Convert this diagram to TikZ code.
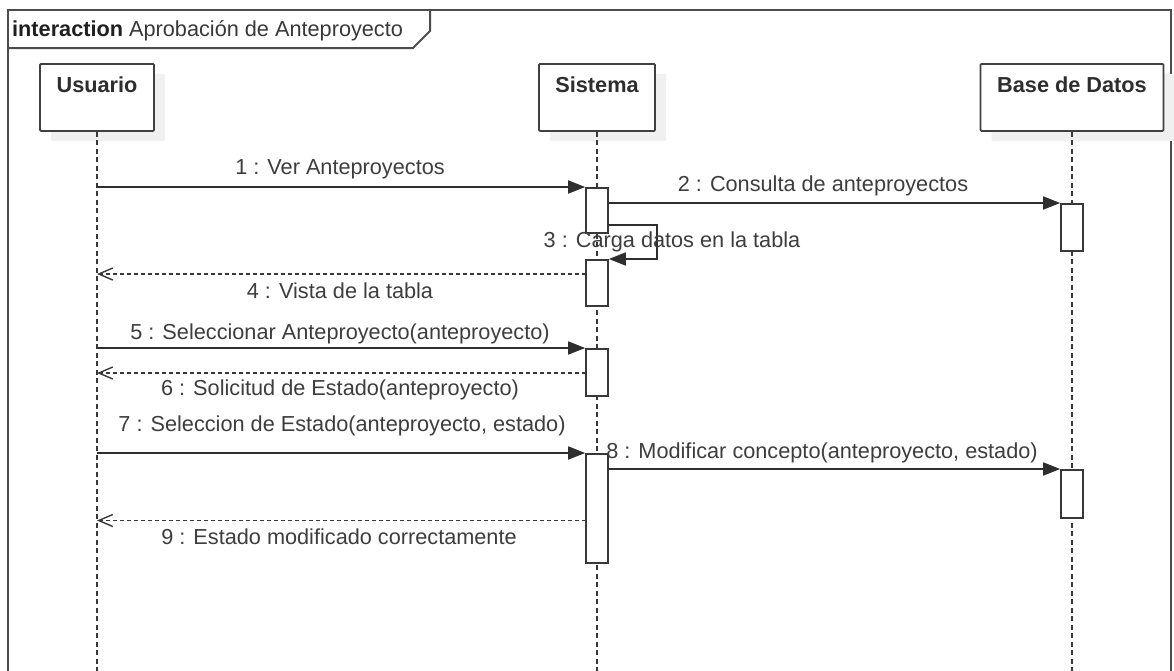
\documentclass[tikz,border=0pt]{standalone}
\usepackage{fontspec}
\setmainfont{Liberation Sans}
\usetikzlibrary{arrows.meta,shadows}
\begin{document}
\begin{tikzpicture}[x=1pt,y=-1pt,
  font=\fontsize{21.7}{26}\selectfont,
  frame/.style={draw=black!70, line width=2pt},
  head/.style={draw=black!75, line width=1.8pt, rounded corners=1pt, fill=white,
    minimum height=67pt, inner sep=0pt, anchor=north,
    general shadow={fill=black!6, shadow xshift=11pt, shadow yshift=-10pt}},
  headname/.style={anchor=base, inner sep=0pt, text=black!82, font=\fontsize{21.7}{26}\selectfont\bfseries},
  lifeline/.style={draw=black!78, line width=1.6pt, dash pattern=on 5pt off 3.5pt},
  act/.style={draw=black!78, line width=1.6pt, fill=white, minimum width=22pt,
    inner sep=0pt, anchor=north},
  msg/.style={draw=black!82, line width=1.6pt, -{Triangle[length=17pt,width=13pt]}},
  ret/.style={draw=black!78, line width=1.5pt, dash pattern=on 4pt off 3pt,
    -{Straight Barb[length=14pt,width=12pt,line width=1.4pt]}},
  lbl/.style={anchor=base, inner sep=0pt, text=black!76}
]
\useasboundingbox (0,0) rectangle (1174,670);
\clip (0,0) rectangle (1174,670);

% interaction frame with its name tab
\draw[frame] (8,10) rectangle (1171,700);
\draw[frame] (8,48) -- (413,48) -- (430,31) -- (430,10);
\node[anchor=base west, inner sep=0pt, text=black!78] (title) at (12,36)
  {\textbf{\color{black!88}interaction} Aprobación de Anteproyecto};

% participants
\node[head, minimum width=114pt] (usr) at (97,63) {};
\node[head, minimum width=116pt] (sys) at (597,63) {};
\node[head, minimum width=183pt] (db) at (1072,63) {};
\node[headname] (usrname) at (97,92) {Usuario};
\node[headname] (sysname) at (597,92) {Sistema};
\node[headname] (dbname) at (1072,92) {Base de Datos};

% lifelines
\draw[lifeline] (usr.south) -- ++(0,580);
\draw[lifeline] (sys.south) -- ++(0,580);
\draw[lifeline] (db.south) -- ++(0,580);

% activation bars
\node[act, minimum height=45pt] (a1) at (597,187) {};
\node[act, minimum height=46pt] (a2) at (597,259) {};
\node[act, minimum height=47pt] (a3) at (597,348) {};
\node[act, minimum height=109pt] (a4) at (597,453) {};
\node[act, minimum height=47pt] (b1) at (1072,203) {};
\node[act, minimum height=48pt] (b2) at (1072,469) {};

% messages
\draw[msg] (usr.south |- a1.north) -- (a1.north west);
\draw[msg] (a1.east |- b1.north) -- (b1.north west);
\coordinate (s3) at (608,225);
\draw[msg] (s3) -- ++(49,0) |- (a2.north east);
\coordinate (r4) at (586,274);
\draw[ret] (r4) -- (r4 -| usr.south);
\draw[msg] (usr.south |- a3.north) -- (a3.north west);
\coordinate (r6) at (586,373);
\draw[ret] (r6) -- (r6 -| usr.south);
\draw[msg] (usr.south |- a4.north) -- (a4.north west);
\draw[msg] (a4.east |- b2.north) -- (b2.north west);
\coordinate (r9) at (586,520.5);
\draw[ret] (r9) -- (r9 -| usr.south);

% message labels
\node[lbl] (l1) at (340,174.5) {1 : Ver Anteproyectos};
\node[lbl] (l2) at (823,191.5) {2 : Consulta de anteproyectos};
\node[lbl] (l3) at (672,247) {3 : Carga datos en la tabla};
\node[lbl] (l4) at (340,298.5) {4 : Vista de la tabla};
\node[lbl] (l5) at (340,339) {5 : Seleccionar Anteproyecto(anteproyecto)};
\node[lbl] (l6) at (340,395.5) {6 : Solicitud de Estado(anteproyecto)};
\node[lbl] (l7) at (342,431.5) {7 : Seleccion de Estado(anteproyecto, estado)};
\node[lbl] (l8) at (822,458) {8 : Modificar concepto(anteproyecto, estado)};
\node[lbl] (l9) at (339,544) {9 : Estado modificado correctamente};
\end{tikzpicture}
\end{document}
